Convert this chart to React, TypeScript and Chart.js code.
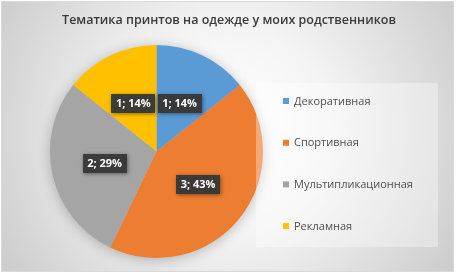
import React, { useEffect, useRef } from "react";
import { Chart, registerables } from "chart.js";

Chart.register(...registerables);

const TITLE = "Тематика принтов на одежде у моих родственников";
const categories = ["Декоративная", "Спортивная", "Мультипликационная", "Рекламная"];
const values = [1, 3, 2, 1];
const colors = ["#5B9BD5", "#ED7D31", "#A5A5A5", "#FFC000"];

const W = 456;
const H = 275;

const decorPlugin = {
  id: "decor",
  beforeDraw(chart: any) {
    const ctx = chart.ctx as CanvasRenderingContext2D;
    ctx.save();
    ctx.fillStyle = "#ffffff";
    ctx.fillRect(0, 0, W, H);
    const g = ctx.createRadialGradient(228, 130, 10, 228, 130, 280);
    g.addColorStop(0, "#ffffff");
    g.addColorStop(0.35, "#f4f4f4");
    g.addColorStop(1, "#c8c8c8");
    ctx.fillStyle = g;
    ctx.fillRect(1, 1, 453, 271);
    ctx.strokeStyle = "#d9d9d9";
    ctx.lineWidth = 1;
    ctx.strokeRect(1.5, 1.5, 452, 270);
    // title
    ctx.fillStyle = "#3a3a3a";
    ctx.font = "600 12.5px 'Open Sans'";
    ctx.textAlign = "center";
    ctx.textBaseline = "middle";
    ctx.fillText(TITLE, 229, 20);
    ctx.restore();
  },
  beforeDatasetsDraw(chart: any) {
    const ctx = chart.ctx as CanvasRenderingContext2D;
    ctx.save();
    ctx.shadowColor = "rgba(0,0,0,0.28)";
    ctx.shadowBlur = 14;
    ctx.shadowOffsetX = 0;
    ctx.shadowOffsetY = 2;
    const meta = chart.getDatasetMeta(0);
    const a = meta.data[0];
    ctx.fillStyle = "#bbbbbb";
    ctx.beginPath();
    ctx.arc(a.x, a.y, a.outerRadius - 1, 0, Math.PI * 2);
    ctx.fill();
    ctx.restore();
  },
  afterDatasetsDraw(chart: any) {
    const ctx = chart.ctx as CanvasRenderingContext2D;
    const meta = chart.getDatasetMeta(0);
    const data = chart.data.datasets[0].data as number[];
    const total = data.reduce((s, v) => s + v, 0);
    ctx.save();
    ctx.font = "bold 11px 'Open Sans'";
    ctx.textAlign = "center";
    ctx.textBaseline = "middle";
    meta.data.forEach((arc: any, i: number) => {
      const p = arc.tooltipPosition();
      const txt = `${data[i]}; ${Math.round((data[i] / total) * 100)}%`;
      const w = 44;
      const h = 19;
      ctx.save();
      ctx.shadowColor = "rgba(0,0,0,0.45)";
      ctx.shadowBlur = 4;
      ctx.shadowOffsetX = 1;
      ctx.shadowOffsetY = 1;
      ctx.fillStyle = "rgba(56,56,56,0.95)";
      ctx.fillRect(Math.round(p.x - w / 2), Math.round(p.y - h / 2), w, h);
      ctx.restore();
      ctx.fillStyle = "#ffffff";
      ctx.fillText(txt, p.x, p.y + 0.5);
    });
    // legend box
    ctx.fillStyle = "rgba(255,255,255,0.35)";
    ctx.fillRect(256, 83, 182, 164);
    ctx.font = "11px 'Open Sans'";
    ctx.textAlign = "left";
    const labels = chart.data.labels as string[];
    const bg = chart.data.datasets[0].backgroundColor as string[];
    labels.forEach((lab, i) => {
      const y = 101 + i * 41.7;
      ctx.fillStyle = bg[i];
      ctx.fillRect(283, y - 3, 6, 6);
      ctx.fillStyle = "#505050";
      ctx.fillText(lab, 294, y + 0.5);
    });
    ctx.restore();
  },
};

export default function App() {
  const ref = useRef<HTMLCanvasElement | null>(null);
  useEffect(() => {
    document.body.style.margin = "0";
    const canvas = ref.current!;
    const chart = new Chart(canvas, {
      type: "pie",
      data: {
        labels: categories,
        datasets: [
          {
            data: values,
            backgroundColor: colors,
            borderWidth: 0,
          },
        ],
      },
      options: {
        responsive: false,
        animation: false,
        devicePixelRatio: 1,
        layout: { padding: { left: 50, top: 45, right: 193, bottom: 17 } },
        plugins: {
          legend: { display: false },
          title: { display: false },
          tooltip: { enabled: false },
        },
      },
      plugins: [decorPlugin],
    });
    return () => chart.destroy();
  }, []);
  return (
    <div style={{ position: "absolute", left: 0, top: 0, width: W, height: H }}>
      <canvas ref={ref} width={W} height={H} style={{ width: W, height: H, display: "block" }} />
    </div>
  );
}
